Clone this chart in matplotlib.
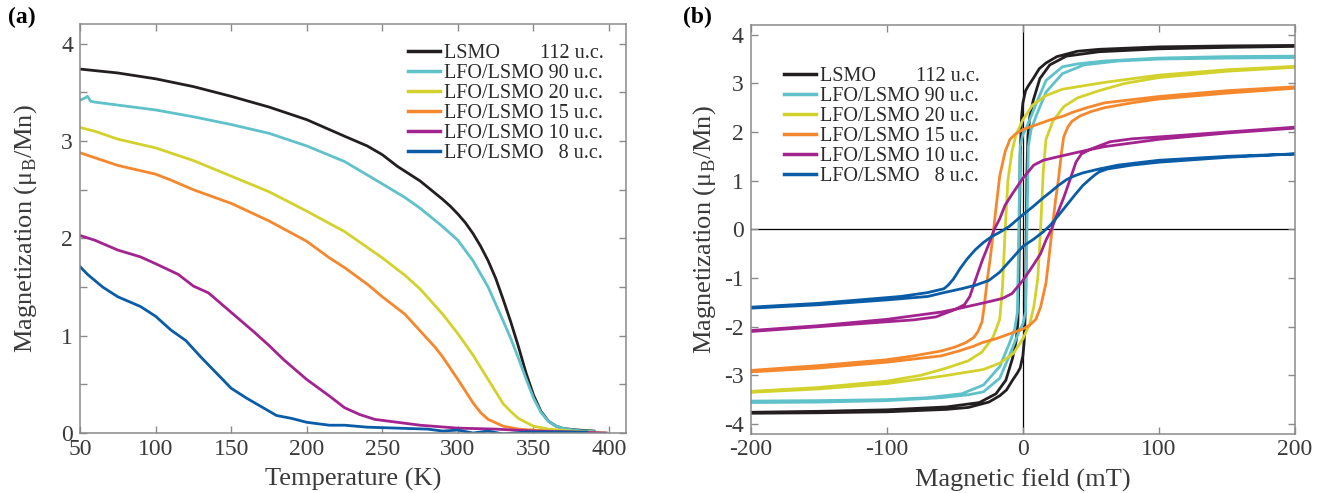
import matplotlib.pyplot as plt
from matplotlib.ticker import MultipleLocator, FuncFormatter

plt.rcParams['font.family'] = ['Liberation Serif', 'DejaVu Serif']
plt.rcParams['mathtext.fontset'] = 'custom'
plt.rcParams['mathtext.rm'] = 'Liberation Serif'
plt.rcParams['axes.unicode_minus'] = False

# legend labels and colours (same order in both panels)
labels = ['LSMO        112 u.c.', 'LFO/LSMO 90 u.c.', 'LFO/LSMO 20 u.c.',
          'LFO/LSMO 15 u.c.', 'LFO/LSMO 10 u.c.', 'LFO/LSMO   8 u.c.']
colors = ['#231f20', '#5fc1c9', '#d3d22c', '#f5872c', '#a3238f', '#0b5ca6']

# ---- (a) M(T) ----
t_lsmo = [50, 75, 100, 125, 150, 175, 200, 225, 240, 250, 260, 275, 290, 295, 300,
          305, 310, 315, 320, 325, 330, 335, 340, 345, 350, 355, 360, 365, 370,
          380, 390]
m_lsmo = [3.74, 3.70, 3.64, 3.56, 3.46, 3.35, 3.22, 3.05, 2.95, 2.86, 2.74, 2.59,
          2.40, 2.33, 2.25, 2.16, 2.05, 1.92, 1.77, 1.59, 1.37, 1.14, 0.89, 0.62,
          0.39, 0.22, 0.12, 0.07, 0.045, 0.03, 0.02]

t_90 = [50, 53, 55, 57, 60, 75, 100, 125, 150, 175, 200, 225, 250, 265, 275, 290,
        300, 310, 320, 330, 335, 340, 345, 350, 355, 360, 365, 370, 380, 390]
m_90 = [3.42, 3.44, 3.46, 3.41, 3.40, 3.37, 3.32, 3.25, 3.17, 3.08, 2.95, 2.79,
        2.56, 2.42, 2.31, 2.12, 1.98, 1.77, 1.50, 1.15, 0.97, 0.77, 0.56, 0.36,
        0.21, 0.12, 0.07, 0.045, 0.025, 0.015]

t_20 = [50, 60, 75, 100, 125, 150, 175, 200, 225, 250, 265, 275, 290, 300, 310,
        320, 330, 335, 340, 350, 360, 375, 398]
m_20 = [3.14, 3.10, 3.02, 2.93, 2.80, 2.64, 2.48, 2.28, 2.07, 1.80, 1.62, 1.48,
        1.22, 1.02, 0.80, 0.55, 0.30, 0.22, 0.15, 0.07, 0.04, 0.02, 0.0]

t_15 = [50, 75, 100, 110, 125, 150, 175, 200, 215, 225, 240, 250, 265, 275, 285,
        290, 300, 305, 310, 315, 320, 330, 340, 360, 385]
m_15 = [2.88, 2.75, 2.66, 2.60, 2.50, 2.36, 2.18, 1.97, 1.80, 1.70, 1.53, 1.40,
        1.22, 1.05, 0.88, 0.78, 0.55, 0.43, 0.31, 0.21, 0.14, 0.07, 0.04, 0.02, 0.0]

t_10 = [50, 60, 75, 90, 100, 115, 125, 135, 150, 165, 175, 185, 200, 215, 225,
        235, 245, 260, 275, 300, 325, 350, 375, 398]
m_10 = [2.03, 1.98, 1.88, 1.81, 1.74, 1.63, 1.51, 1.44, 1.24, 1.04, 0.90, 0.75,
        0.55, 0.38, 0.26, 0.19, 0.14, 0.11, 0.08, 0.05, 0.04, 0.02, 0.01, 0.0]

t_8 = [50, 55, 65, 75, 90, 100, 110, 120, 130, 140, 150, 160, 170, 180, 190, 200,
       215, 225, 240, 260, 280, 290, 300, 310, 320, 330, 345, 360, 385]
m_8 = [1.71, 1.63, 1.50, 1.40, 1.30, 1.20, 1.06, 0.95, 0.78, 0.62, 0.46, 0.36,
       0.27, 0.18, 0.15, 0.11, 0.08, 0.08, 0.06, 0.05, 0.04, 0.02, 0.03, 0.0,
       0.02, -0.01, 0.01, 0.01, 0.01]

temps = [t_lsmo, t_90, t_20, t_15, t_10, t_8]
mags = [m_lsmo, m_90, m_20, m_15, m_10, m_8]

# ---- (b) M(H), ascending branches; descending branch = mirrored ascending ----
h_lsmo = [-200, -150, -100, -56, -40, -25, -17, -12, -7.6, -4, -2, 0, 1, 2, 2.5, 3,
          3.7, 5, 7.6, 12.5, 19.8, 32, 56, 100, 150, 200]
mh_lsmo = [-3.78, -3.77, -3.75, -3.70, -3.66, -3.55, -3.42, -3.3, -3.1, -2.95,
           -2.85, -2.6, -2.3, -1.5, 0, 1.2, 1.92, 2.3, 2.65, 3.1, 3.38, 3.56,
           3.65, 3.71, 3.74, 3.76]

h_90 = [-200, -150, -100, -60, -40, -29, -17, -10, -5, -2, 0, 2, 3, 4, 6, 10, 17,
        29, 45, 70, 100, 150, 200]
mh_90 = [-3.56, -3.55, -3.52, -3.46, -3.4, -3.34, -3.06, -2.6, -2.25, -2.05, -1.95,
         -1.7, 0, 1.7, 2.05, 2.35, 2.82, 3.2, 3.38, 3.46, 3.5, 3.52, 3.53]

h_20 = [-200, -150, -100, -60, -40, -29, -17, -7, 0, 5, 8, 11, 13, 15, 17, 22, 30,
        40, 56, 75, 100, 150, 200]
mh_20 = [-3.35, -3.28, -3.17, -3.02, -2.93, -2.88, -2.75, -2.55, -2.25, -1.95,
         -1.6, -1.0, 0, 1.2, 1.85, 2.22, 2.52, 2.7, 2.85, 3.0, 3.12, 3.25, 3.33]

h_15 = [-200, -150, -100, -60, -47, -36, -30, -20, -10, 0, 5, 9.5, 13, 17, 19.5,
        21.5, 24, 26, 28.5, 30, 33, 36, 42, 50, 60, 80, 100, 150, 200]
mh_15 = [-2.93, -2.85, -2.73, -2.6, -2.5, -2.4, -2.33, -2.25, -2.15, -2.05, -1.97,
         -1.85, -1.6, -1.1, -0.5, 0, 0.6, 1.0, 1.6, 1.9, 2.1, 2.22, 2.33, 2.42,
         2.5, 2.6, 2.68, 2.8, 2.9]

h_10 = [-200, -150, -100, -60, -46, -27, -15, -8, 0, 8, 13, 17, 21, 25, 30, 35, 39,
        43, 50, 64, 80, 100, 150, 200]
mh_10 = [-2.08, -1.98, -1.85, -1.7, -1.62, -1.5, -1.42, -1.32, -1.05, -0.72, -0.5,
         -0.22, 0, 0.3, 0.65, 1.05, 1.38, 1.55, 1.65, 1.8, 1.86, 1.9, 2.0, 2.1]

h_8 = [-200, -150, -100, -70, -58, -45, -35, -25, -17, -8, 0, 8, 15, 20, 26, 32, 38,
       44, 50, 53, 56, 62, 80, 100, 150, 200]
mh_8 = [-1.62, -1.55, -1.45, -1.38, -1.3, -1.22, -1.15, -1.05, -0.88, -0.6, -0.35,
        -0.2, -0.05, 0.08, 0.28, 0.49, 0.7, 0.9, 1.05, 1.12, 1.18, 1.24, 1.32, 1.38,
        1.48, 1.55]
# the 8 u.c. loop is not symmetric, so its descending branch is read separately
h_8_down = [200, 150, 100, 70, 56, 50, 44, 38, 32, 26, 20, 15, 8, 0, -5, -10, -17,
            -23, -29, -35, -41, -46, -51, -55, -58, -70, -90, -150, -200]
mh_8_down = [1.55, 1.5, 1.42, 1.32, 1.24, 1.2, 1.16, 1.1, 1.02, 0.9, 0.76, 0.65,
             0.48, 0.3, 0.18, 0.06, -0.06, -0.15, -0.27, -0.42, -0.61, -0.8, -1.02,
             -1.15, -1.22, -1.3, -1.38, -1.52, -1.6]

fields = [h_lsmo, h_90, h_20, h_15, h_10, h_8]
loops = [mh_lsmo, mh_90, mh_20, mh_15, mh_10, mh_8]

grey = '#8a8a8a'
txt = '#3a3a3a'

fig = plt.figure(figsize=(13.33, 4.93), dpi=100)
ax1 = fig.add_axes([0.060, 0.1217, 0.4094, 0.829])
ax2 = fig.add_axes([0.5632, 0.1203, 0.4083, 0.829])

for t, m, c, lab in zip(temps, mags, colors, labels):
    ax1.plot(t, m, color=c, lw=2, label=lab)

ax2.axhline(0, color='k', lw=0.9, zorder=0)
ax2.axvline(0, color='k', lw=0.9, zorder=0)
for i, (h, m, c, lab) in enumerate(zip(fields, loops, colors, labels)):
    if i == 5:
        hd, md = h_8_down, mh_8_down
    else:
        # point reflection of the ascending branch: runs from +200 down to -200
        hd = [-v for v in h]
        md = [-v for v in m]
    ax2.plot(hd + h, md + m, color=c, lw=2, label=lab)

ax1.set_xlim(50, 411)
ax1.set_ylim(0, 4.2)
ax1.xaxis.set_major_locator(MultipleLocator(50))
ax1.yaxis.set_major_locator(MultipleLocator(0.5))
ax1.yaxis.set_major_formatter(FuncFormatter(lambda v, p: '%d' % v if v == int(v) else ''))
ax1.set_xlabel('Temperature (K)', fontsize=19, color=txt, labelpad=6)
ax1.set_ylabel('Magnetization (μ$_\\mathrm{B}$/Mn)', fontsize=19, color=txt, labelpad=16)

ax2.set_xlim(-200, 200)
ax2.set_ylim(-4.2, 4.2)
ax2.xaxis.set_major_locator(MultipleLocator(100))
ax2.yaxis.set_major_locator(MultipleLocator(1))
ax2.set_xlabel('Magnetic field (mT)', fontsize=19, color=txt, labelpad=6)
ax2.set_ylabel('Magnetization (μ$_\\mathrm{B}$/Mn)', fontsize=19, color=txt, labelpad=4)

for ax in (ax1, ax2):
    for s in ax.spines.values():
        s.set_color(grey)
        s.set_linewidth(1.1)
    ax.tick_params(direction='in', top=True, right=True, length=5, width=1,
                   color=grey, labelcolor=txt, labelsize=17, pad=4)
    ax.tick_params(axis='y', pad=5)

leg1 = ax1.legend(loc='upper right', bbox_to_anchor=(0.975, 0.972), frameon=False,
                  fontsize=14.5, handlelength=1.6, handletextpad=0.2,
                  labelspacing=0.05, borderaxespad=0)
leg2 = ax2.legend(loc='upper left', bbox_to_anchor=(0.046, 0.918), frameon=False,
                  fontsize=14.5, handlelength=1.6, handletextpad=0.2,
                  labelspacing=0.05, borderaxespad=0)
for leg in (leg1, leg2):
    for ln in leg.get_lines():
        ln.set_linewidth(2.5)
    for t in leg.get_texts():
        t.set_color('#2a2a2a')

fig.text(0.006, 0.965, '(a)', fontsize=17, fontweight='bold', va='center')
fig.text(0.5125, 0.965, '(b)', fontsize=17, fontweight='bold', va='center')

fig.savefig('out.png', dpi=100)
